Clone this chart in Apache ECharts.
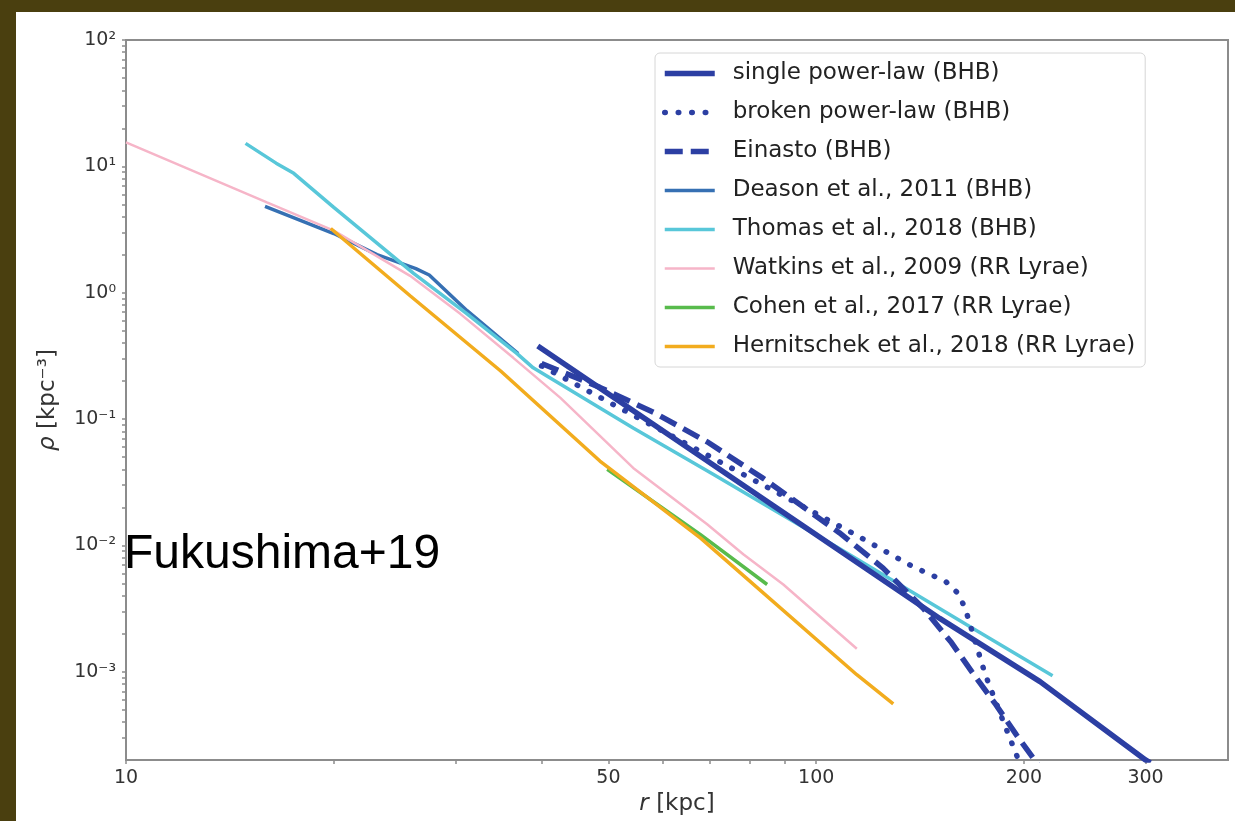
<!DOCTYPE html>
<html>
<head>
<meta charset="utf-8">
<script src="https://cdn.jsdelivr.net/npm/echarts@6/dist/echarts.min.js"></script>
<style>
  html, body { margin: 0; padding: 0; background: #4a3f0f; }
  #main { position: absolute; left: 16px; top: 12px; width: 1219px; height: 809px; background: #fff; }
</style>
</head>
<body>
<div id="main"></div>
<script>
// axis ticks
var xMajor = [10, 50, 100, 200, 300];
var xMinor = [20, 30, 40, 60, 70, 80, 90];
var yMajor = [1e-3, 1e-2, 1e-1, 1, 10, 100];
var yMajorLabels = ['10⁻³', '10⁻²', '10⁻¹', '10⁰', '10¹', '10²'];

// profiles, [r (kpc), rho (kpc^-3)]
var singlePL = [[39.5, 0.379], [151, 0.00264], [211, 0.000834], [300, 0.0002], [305, 0.00019]];
var brokenPL = [[40, 0.263], [113, 0.01245], [138, 0.0068], [154, 0.00518], [160.6, 0.00416],
  [164.4, 0.00316], [170, 0.00173], [175.8, 0.000946], [186, 0.000424], [195.6, 0.000211], [198, 0.00018]];
var einasto = [[40, 0.275], [48.6, 0.178], [58.3, 0.112], [69.5, 0.066], [83.8, 0.0339], [108, 0.0126],
  [125, 0.0066], [143, 0.00316], [157, 0.0017], [168, 0.001], [182, 0.00055], [195, 0.000316],
  [206, 0.000209], [212, 0.000166]];
var deason = [[15.9, 4.82], [20, 2.94], [23.1, 2.0], [26.3, 1.55], [27.5, 1.38], [31.2, 0.72], [37, 0.33]];
var thomas = [[14.9, 15.2], [16.5, 10.6], [17.5, 8.8], [20, 4.73], [26.1, 1.42], [31.2, 0.68], [36.9, 0.328],
  [38.9, 0.254], [54.3, 0.085], [70.9, 0.0366], [108, 0.00946], [165, 0.00236], [220, 0.00093]];
var watkins = [[10, 15.5], [16, 5.18], [20, 3.1], [25.8, 1.36], [30.5, 0.68], [36.4, 0.305], [42.6, 0.147],
  [54.3, 0.041], [69.5, 0.0147], [78.4, 0.0085], [89.6, 0.0049], [114.5, 0.00152]];
var cohen = [[49.8, 0.040], [67.9, 0.0122], [84.9, 0.0049]];
var hernitschek = [[19.8, 3.22], [25.8, 0.946], [34.9, 0.24], [48.6, 0.0465], [68, 0.0114],
  [114.5, 0.000946], [129.3, 0.000557]];

var names = ['single power-law (BHB)', 'broken power-law (BHB)', 'Einasto (BHB)',
  'Deason et al., 2011 (BHB)', 'Thomas et al., 2018 (BHB)', 'Watkins et al., 2009 (RR Lyrae)',
  'Cohen et al., 2017 (RR Lyrae)', 'Hernitschek et al., 2018 (RR Lyrae)'];

// minor ticks on y: 2..9 x 10^k
var yTicks = yMajor.slice();
[-4, -3, -2, -1, 0, 1].forEach(function (k) {
  for (var m = 2; m <= 9; m++) {
    var v = m * Math.pow(10, k);
    if (v > 2.05e-4 && v < 100) yTicks.push(v);
  }
});

var font = 'DejaVu Sans';
var axisGray = '#8c8c8c';

function line(name, data, color, width, type, cap, z) {
  return {
    name: name, type: 'line', data: data, symbol: 'none', z: z,
    lineStyle: { color: color, width: width, type: type, cap: cap },
    itemStyle: { color: color },
    emphasis: { disabled: true }, silent: true
  };
}

var myChart = echarts.init(document.getElementById('main'));

var option = {
  animation: false,
  grid: {
    left: 110, top: 28, right: 7, bottom: 61,
    show: true, borderColor: axisGray, borderWidth: 2,
    outerBoundsMode: 'none'
  },
  legend: {
    orient: 'vertical', left: 639, top: 41,
    data: names,
    itemWidth: 50, itemHeight: 14, itemGap: 14,
    padding: [8, 10, 8, 7],
    backgroundColor: 'rgba(255,255,255,0.85)',
    borderColor: '#d6d6d6', borderWidth: 1, borderRadius: 5,
    lineStyle: { width: 'inherit' },
    itemStyle: { opacity: 0 },
    selectedMode: false,
    textStyle: { fontSize: 23, lineHeight: 25, color: '#222', fontFamily: font, padding: [0, 0, 0, 13] }
  },
  xAxis: {
    type: 'log', logBase: 10, min: 10, max: 395,
    name: '{i|r} [kpc]', nameLocation: 'middle', nameGap: 33,
    nameTextStyle: { fontSize: 23, color: '#333', fontFamily: font,
      rich: { i: { fontStyle: 'italic', fontSize: 23, color: '#333', fontFamily: font } } },
    axisLine: { show: true, lineStyle: { color: axisGray, width: 2 } },
    axisTick: { show: true, length: 4, customValues: xMajor.concat(xMinor), lineStyle: { color: axisGray, width: 1.5 } },
    axisLabel: { customValues: xMajor, fontSize: 19, color: '#333', fontFamily: font, margin: 9,
      formatter: function (v) { return String(Math.round(v)); } },
    splitLine: { show: false }
  },
  yAxis: {
    type: 'log', logBase: 10, min: 2e-4, max: 100,
    name: '{i|ρ} [kpc⁻³]', nameLocation: 'middle', nameGap: 66, nameRotate: 90,
    nameTextStyle: { fontSize: 23, color: '#333', fontFamily: font,
      rich: { i: { fontStyle: 'italic', fontSize: 23, color: '#333', fontFamily: font } } },
    axisLine: { show: true, lineStyle: { color: axisGray, width: 2 } },
    axisTick: { show: true, length: 4, customValues: yTicks, lineStyle: { color: axisGray, width: 1.5 } },
    axisLabel: { fontSize: 19, color: '#333', fontFamily: font, margin: 10,
      formatter: function (v) {
        for (var i = 0; i < yMajor.length; i++) {
          if (Math.abs(Math.log10(v) - Math.log10(yMajor[i])) < 1e-6) return yMajorLabels[i];
        }
        return '';
      } },
    splitLine: { show: false }
  },
  graphic: [{
    type: 'text', x: 108, y: 543, z: 100,
    style: { text: 'Fukushima+19', fontSize: 48, fontFamily: 'Liberation Sans', fill: '#000',
      align: 'left', verticalAlign: 'middle' }
  }],
  series: [
    line(names[0], singlePL, '#2c3fa3', 5.5, 'solid', 'butt', 5),
    line(names[1], brokenPL, '#2c3fa3', 5.5, [0.5, 13], 'round', 5),
    line(names[2], einasto, '#2c3fa3', 5.5, [18, 8], 'butt', 5),
    line(names[3], deason, '#3670b3', 3.5, 'solid', 'butt', 3),
    line(names[4], thomas, '#58c7d9', 3.5, 'solid', 'butt', 3),
    line(names[5], watkins, '#f6b5c8', 2.5, 'solid', 'butt', 3),
    line(names[6], cohen, '#58bb4c', 3.5, 'solid', 'butt', 3),
    line(names[7], hernitschek, '#f2ac1e', 3.5, 'solid', 'butt', 3)
  ]
};

myChart.setOption(option);
</script>
</body>
</html>
